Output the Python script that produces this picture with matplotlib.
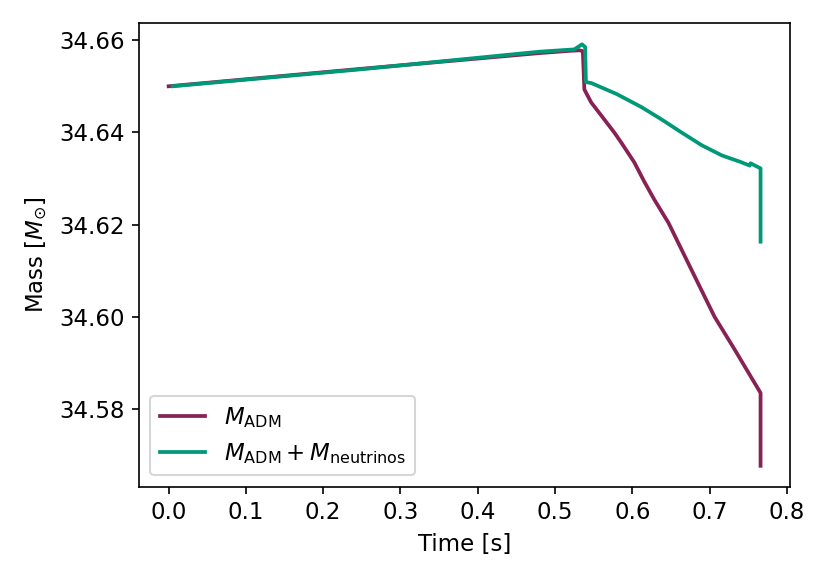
import numpy as np
import matplotlib
matplotlib.use("Agg")
import matplotlib.pyplot as plt

plt.rcParams['font.size'] = 11

# M_ADM over time
t_adm = [0.0, 0.25, 0.48, 0.52, 0.532, 0.536, 0.538, 0.5468, 0.5597, 0.5766,
         0.5857, 0.6026, 0.6156, 0.6286, 0.6468, 0.6766, 0.7065, 0.730,
         0.766, 0.766]
m_adm = [34.6500, 34.6538, 34.6572, 34.6577, 34.6578, 34.6576, 34.6493,
         34.6465, 34.6437, 34.6400, 34.6378, 34.6335, 34.6293, 34.6254,
         34.6204, 34.6102, 34.6000, 34.5936, 34.5835, 34.5677]

# M_ADM + M_neutrinos over time
t_tot = [0.005, 0.25, 0.48, 0.525, 0.535, 0.539, 0.540, 0.547, 0.58, 0.6117,
         0.638, 0.6636, 0.690, 0.716, 0.740, 0.752, 0.753, 0.766, 0.766]
m_tot = [34.6500, 34.6537, 34.6575, 34.6580, 34.6591, 34.6585, 34.6509,
         34.6507, 34.6483, 34.6455, 34.6428, 34.6400, 34.6372, 34.6350,
         34.6336, 34.6328, 34.6333, 34.6322, 34.6163]

fig = plt.figure(figsize=(830 / 150, 581 / 150), dpi=150)
ax = fig.add_axes([0.1675, 0.162, 0.7845, 0.798])

ax.plot(t_adm, m_adm, color='#882255', lw=1.8, label=r'$M_{\rm ADM}$')
ax.plot(t_tot, m_tot, color='#009977', lw=1.8,
        label=r'$M_{\rm ADM} + M_{\rm neutrinos}$')

ax.set_xlabel('Time [s]')
ax.set_ylabel(r'Mass [$M_{\odot}$]')
ax.legend(loc='lower left')

fig.savefig('out.png', dpi=150)
